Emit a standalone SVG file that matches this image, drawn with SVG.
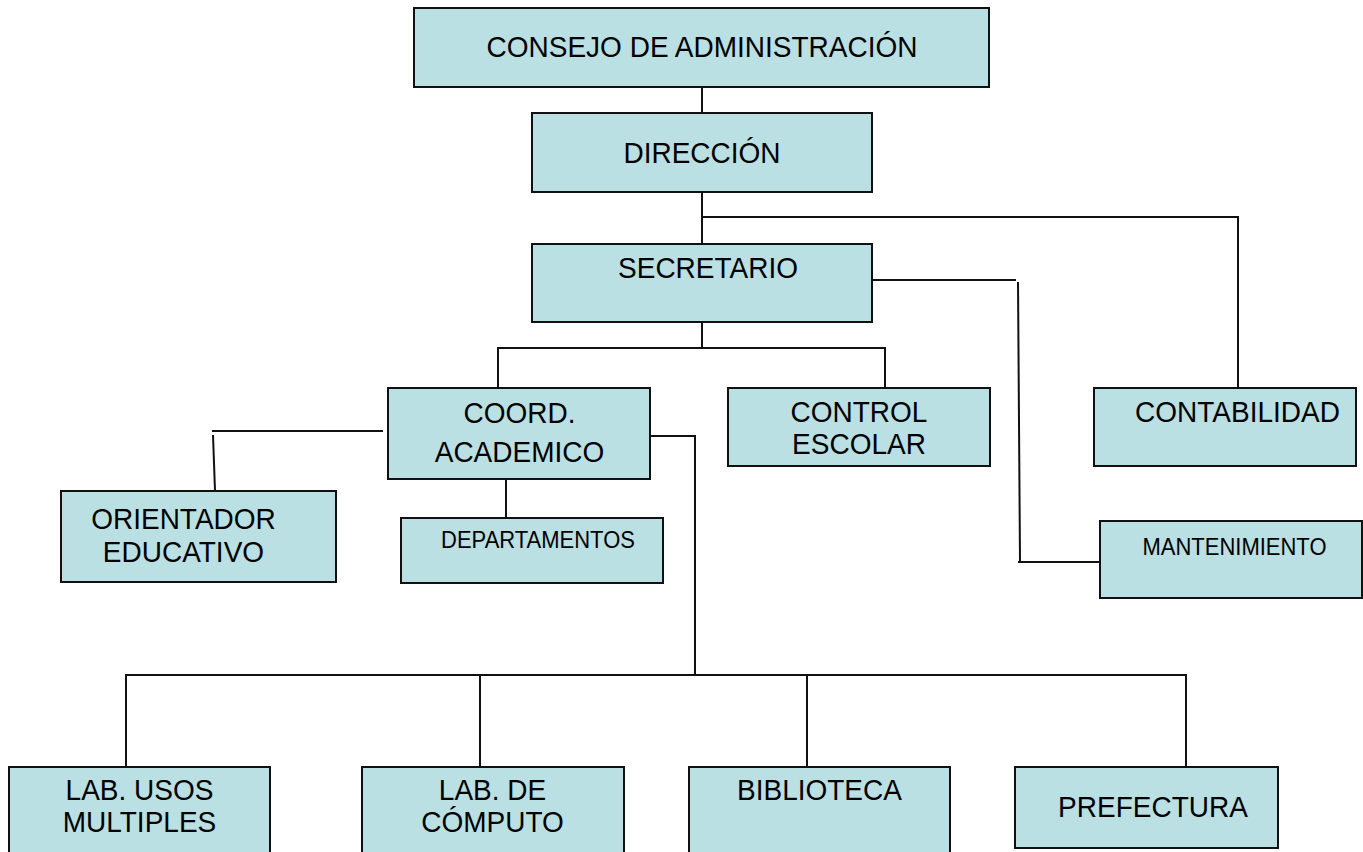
<svg xmlns="http://www.w3.org/2000/svg" width="1363" height="852" viewBox="0 0 1363 852">
<style>
.box{fill:#BBE0E3;stroke:#111;stroke-width:2}
.t{font-family:"Liberation Sans",Arial,sans-serif;font-size:28px;fill:#000;text-anchor:middle}
.s{font-size:22px}
.c{fill:none;stroke:#111;stroke-width:2}
</style>
<rect width="1363" height="852" fill="#fff"/>
<g id="connectors">
<path class="c" d="M702 87V113"/>
<path class="c" d="M702 192V244"/>
<path class="c" d="M702 217H1238V388"/>
<path class="c" d="M872 280H1016"/>
<path class="c" d="M1018 282L1020 561"/>
<path class="c" d="M1018 562H1100"/>
<path class="c" d="M702 322V348"/>
<path class="c" d="M498 388V348H885V388"/>
<path class="c" d="M212 431H383"/>
<path class="c" d="M213 435L215 491"/>
<path class="c" d="M506 479V518"/>
<path class="c" d="M650 436H695V675"/>
<path class="c" d="M126 767V675H1186V767"/>
<path class="c" d="M480 675V767"/>
<path class="c" d="M807 675V767"/>
</g>
<g id="consejo"><rect class="box" x="414" y="8" width="575" height="79"/><text class="t" x="702" y="57" transform="matrix(1 0 0 1.06 0 -3.42)">CONSEJO DE ADMINISTRACIÓN</text></g>
<g id="direccion"><rect class="box" x="532" y="113" width="340" height="79"/><text class="t" x="702" y="163" transform="matrix(1 0 0 1.06 0 -9.78)">DIRECCIÓN</text></g>
<g id="secretario"><rect class="box" x="532" y="244" width="340" height="78"/><text class="t" x="708" y="278" transform="matrix(1 0 0 1.06 0 -16.68)">SECRETARIO</text></g>
<g id="coord"><rect class="box" x="388" y="388" width="262" height="91"/><text class="t" x="519.5" y="423" transform="matrix(1 0 0 1.06 0 -25.38)">COORD.</text><text class="t" x="519.5" y="462" transform="matrix(1 0 0 1.06 0 -27.72)">ACADEMICO</text></g>
<g id="control"><rect class="box" x="728" y="388" width="262" height="78"/><text class="t" x="859" y="422" transform="matrix(1 0 0 1.06 0 -25.32)">CONTROL</text><text class="t" x="859" y="454" transform="matrix(1 0 0 1.06 0 -27.24)">ESCOLAR</text></g>
<g id="contabilidad"><rect class="box" x="1094" y="388" width="262" height="78"/><text class="t" x="1237.5" y="422" transform="matrix(1 0 0 1.06 0 -25.32)">CONTABILIDAD</text></g>
<g id="orientador"><rect class="box" x="61" y="491" width="275" height="91"/><text class="t" x="183.5" y="529" transform="matrix(1 0 0 1.06 0 -31.74)">ORIENTADOR</text><text class="t" x="183.5" y="562" transform="matrix(1 0 0 1.06 0 -33.72)">EDUCATIVO</text></g>
<g id="departamentos"><rect class="box" x="401" y="518" width="262" height="65"/><text class="t s" x="538" y="548" transform="matrix(1 0 0 1.06 0 -32.88)">DEPARTAMENTOS</text></g>
<g id="mantenimiento"><rect class="box" x="1100" y="521" width="262" height="77"/><text class="t s" x="1234.5" y="555" transform="matrix(1 0 0 1.06 0 -33.3)">MANTENIMIENTO</text></g>
<g id="labusos"><rect class="box" x="9" y="767" width="261" height="110"/><text class="t" x="139.5" y="800" transform="matrix(1 0 0 1.06 0 -48)">LAB. USOS</text><text class="t" x="139.5" y="832" transform="matrix(1 0 0 1.06 0 -49.92)">MULTIPLES</text></g>
<g id="labcomputo"><rect class="box" x="362" y="767" width="262" height="110"/><text class="t" x="492.5" y="800" transform="matrix(1 0 0 1.06 0 -48)">LAB. DE</text><text class="t" x="492.5" y="832" transform="matrix(1 0 0 1.06 0 -49.92)">CÓMPUTO</text></g>
<g id="biblioteca"><rect class="box" x="689" y="767" width="261" height="110"/><text class="t" x="819.5" y="800" transform="matrix(1 0 0 1.06 0 -48)">BIBLIOTECA</text></g>
<g id="prefectura"><rect class="box" x="1015" y="767" width="263" height="81"/><text class="t" x="1153" y="817" transform="matrix(1 0 0 1.06 0 -49.02)">PREFECTURA</text></g>
</svg>
